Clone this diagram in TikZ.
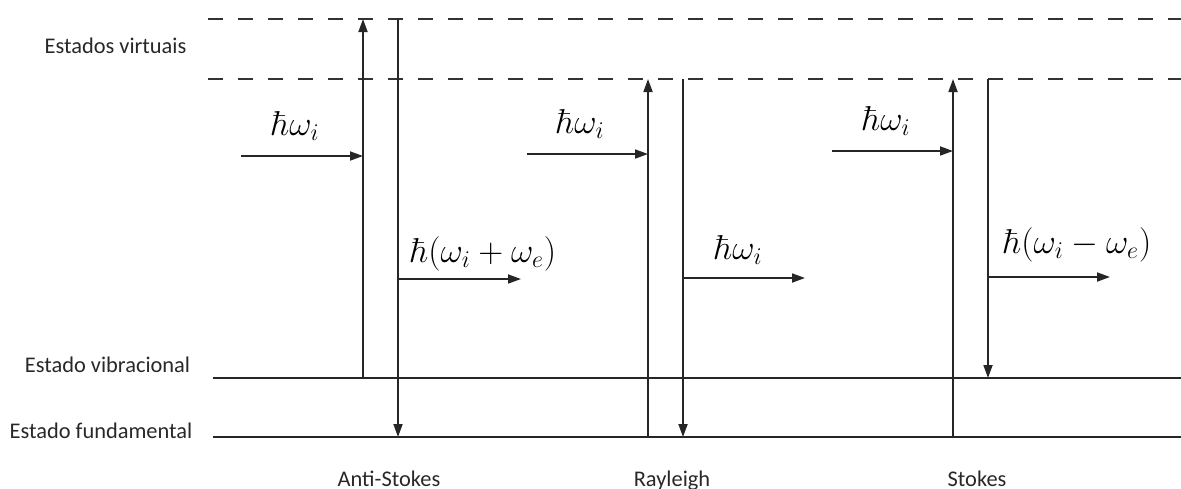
\documentclass[tikz,border=0pt]{standalone}
\usepackage[no-math]{fontspec}
\setmainfont{Carlito}
\usetikzlibrary{arrows.meta}
\definecolor{txt}{RGB}{40,40,40}
\tikzset{
  lvl/.style={line width=1pt, draw=black!85},
  virt/.style={line width=1pt, draw=black!80, dash pattern=on 7.5pt off 7.5pt},
  trans/.style={line width=0.9pt, draw=black!85, -{Triangle[length=6.5pt,width=4.5pt]}},
  plain/.style={line width=0.9pt, draw=black!85},
  lbl/.style={anchor=base, inner sep=0pt, text=txt, font=\fontsize{11.2}{13}\selectfont},
  mlbl/.style={anchor=base west, inner sep=0pt, text=black, font=\fontsize{17}{19}\selectfont}
}
\begin{document}
\begin{tikzpicture}[x=0.5pt,y=-0.5pt]
\useasboundingbox (0,0) rectangle (1181,488);
% levels
\coordinate (v1l) at (208,19);  \coordinate (v1r) at (1181,19);
\coordinate (v2l) at (208,79);  \coordinate (v2r) at (1181,79);
\coordinate (vbl) at (213,378); \coordinate (vbr) at (1181,378);
\coordinate (fdl) at (213,437); \coordinate (fdr) at (1181,437);
\draw[virt] (v1l) -- (v1r);
\draw[virt] (v2l) -- (v2r);
\draw[lvl] (vbl) -- (vbr);
\draw[lvl] (fdl) -- (fdr);
% level labels
\node[lbl] (lv) at (115.5,53) {Estados virtuais};
\node[lbl] (lb) at (107.5,372) {Estado vibracional};
\node[lbl] (lf) at (101,438) {Estado fundamental};
% Anti-Stokes
\coordinate (asUb) at (363,378); \coordinate (asUt) at (363,19);
\coordinate (asDt) at (398,19);  \coordinate (asDb) at (398,437);
\coordinate (asIa) at (241,156); \coordinate (asIb) at (363,156);
\coordinate (asOa) at (398,279); \coordinate (asOb) at (521,279);
\draw[trans] (asUb) -- (asUt);
\draw[trans] (asDt) -- (asDb);
\draw[trans] (asIa) -- (asIb);
\draw[trans] (asOa) -- (asOb);
\node[mlbl] (asI) at (271,135) {$\hbar\omega_i$};
\node[mlbl] (asO) at (410,262) {$\hbar(\omega_i+\omega_e)$};
\node[lbl] (asT) at (389,486) {Anti-Stokes};
% Rayleigh
\coordinate (raUb) at (648,437); \coordinate (raUt) at (648,79);
\coordinate (raDt) at (683,79);  \coordinate (raDb) at (683,437);
\coordinate (raIa) at (527,154); \coordinate (raIb) at (648,154);
\coordinate (raOa) at (683,278); \coordinate (raOb) at (805,278);
\draw[trans] (raUb) -- (raUt);
\draw[trans] (raDt) -- (raDb);
\draw[trans] (raIa) -- (raIb);
\draw[trans] (raOa) -- (raOb);
\node[mlbl] (raI) at (556,133) {$\hbar\omega_i$};
\node[mlbl] (raO) at (714,259) {$\hbar\omega_i$};
\node[lbl] (raT) at (672,486) {Rayleigh};
% Stokes
\coordinate (stUb) at (953,437); \coordinate (stUt) at (953,79);
\coordinate (stDt) at (988,79);  \coordinate (stDb) at (988,378);
\coordinate (stIa) at (832,151); \coordinate (stIb) at (953,151);
\coordinate (stOa) at (988,277); \coordinate (stOb) at (1110,277);
\draw[trans] (stUb) -- (stUt);
\draw[trans] (stDt) -- (stDb);
\draw[trans] (stIa) -- (stIb);
\draw[trans] (stOa) -- (stOb);
\node[mlbl] (stI) at (862,130) {$\hbar\omega_i$};
\node[mlbl] (stO) at (1003,253) {$\hbar(\omega_i-\omega_e)$};
\node[lbl] (stT) at (977,486) {Stokes};
\end{tikzpicture}
\end{document}
